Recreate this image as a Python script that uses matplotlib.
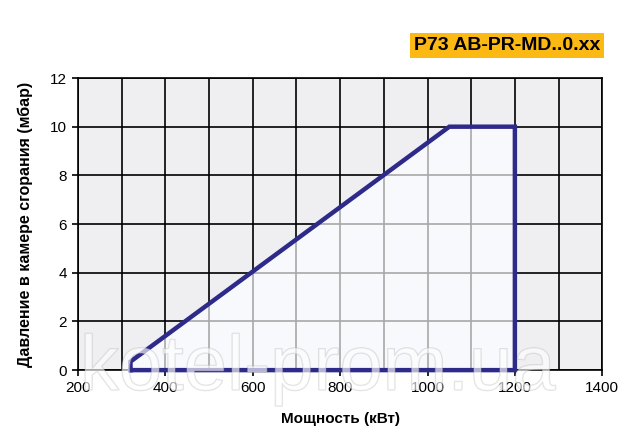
import matplotlib.pyplot as plt
import matplotlib.patheffects as pe

plt.rcParams['font.family'] = ['Liberation Sans', 'DejaVu Sans']

# working field of the burner
power = [320, 320, 1050, 1200, 1200, 320]
pressure = [0, 0.35, 10, 10, 0, 0]

x_ticks = [200, 400, 600, 800, 1000, 1200, 1400]
y_ticks = [0, 2, 4, 6, 8, 10, 12]

title = "P73 AB-PR-MD..0.xx"

fig = plt.figure(figsize=(6.4, 4.47), dpi=100)
ax = fig.add_axes([0.122, 0.172, 0.819, 0.6535])
ax.set_facecolor("#efeff2")
ax.set_xlim(200, 1400)
ax.set_ylim(0, 12)

# grid every 100 kW / 2 mbar
for xv in range(200, 1401, 100):
    ax.axvline(xv, color="black", lw=1.2, zorder=1)
for yv in range(0, 13, 2):
    ax.axhline(yv, color="black", lw=1.2, zorder=1)

ax.fill(power, pressure, color="#f8f9fd", zorder=2)
# grid inside the field shows through in gray
clip = ax.fill(power, pressure, facecolor="none", edgecolor="none")[0]
for xv in range(200, 1401, 100):
    l = ax.axvline(xv, color="#a8a8a8", lw=1.2, zorder=3)
    l.set_clip_path(clip)
for yv in range(0, 13, 2):
    l = ax.axhline(yv, color="#a8a8a8", lw=1.2, zorder=3)
    l.set_clip_path(clip)

ax.plot(power, pressure, color="#2e2a8a", lw=3.2, solid_joinstyle="miter",
        clip_on=False, zorder=4)

ax.set_xticks(x_ticks)
ax.set_yticks(y_ticks)
ax.tick_params(direction="out", length=4, width=1.2, labelsize=11, pad=4)
for s in ax.spines.values():
    s.set_linewidth(1.2)

ax.set_xlabel("Мощность (кВт)", fontsize=11, fontweight="bold", labelpad=12)
ax.set_ylabel("Давление в камере сгорания (мбар)", fontsize=11.5, fontweight="bold", labelpad=12)

fig.text(0.938, 0.899, title, fontsize=14, fontweight="bold", color="black",
         va="center", ha="right",
         bbox=dict(boxstyle="square,pad=0.2", fc="#fdb913", ec="none"))

# watermark
wm = fig.text(0.125, 0.128, "kotel-prom.ua", fontsize=56, color="white", alpha=0.4,
              va="baseline", ha="left", zorder=10)
wm.set_path_effects([pe.Stroke(linewidth=1, foreground="#b0b0b0"), pe.Normal()])

fig.savefig("out.png", dpi=100)
